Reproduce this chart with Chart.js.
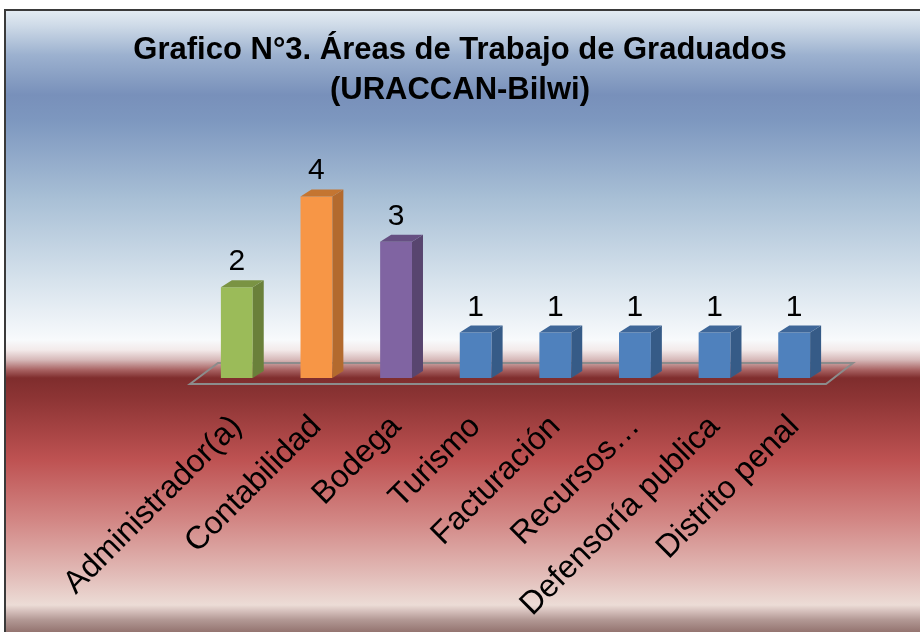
<!DOCTYPE html>
<html>
<head>
<meta charset="utf-8">
<script src="https://cdn.jsdelivr.net/npm/chart.js@4"></script>
<style>
  html, body { margin: 0; padding: 0; background: #fff; }
  #wrap { width: 920px; height: 632px; }
</style>
</head>
<body>
<div id="wrap"><canvas id="grafica" width="920" height="632"></canvas></div>
<script>
const categories = ['Administrador(a)', 'Contabilidad', 'Bodega', 'Turismo', 'Facturación', 'Recursos…', 'Defensoría publica', 'Distrito penal'];
const values = [2, 4, 3, 1, 1, 1, 1, 1];
const frontColors = ['#9bbb59', '#f79646', '#8064a2', '#4f81bd', '#4f81bd', '#4f81bd', '#4f81bd', '#4f81bd'];
const sideColors = ['#6a803a', '#b36a2e', '#58456f', '#365b87', '#365b87', '#365b87', '#365b87', '#365b87'];
const topColors = ['#7a9343', '#c47531', '#664f82', '#3e6698', '#3e6698', '#3e6698', '#3e6698', '#3e6698'];
const titleLines = ['Grafico N°3. Áreas de Trabajo de Graduados', '(URACCAN-Bilwi)'];

const FONT = "'Liberation Sans', Arial, sans-serif";
const DX = 11, DY = 7;

// fondo degradado + marco
const fondo = {
  id: 'fondo',
  beforeDraw(chart) {
    const ctx = chart.ctx;
    const W = chart.width, H = chart.height;
    ctx.save();
    ctx.fillStyle = '#fff';
    ctx.fillRect(0, 0, W, H);
    const g = ctx.createLinearGradient(0, 10, 0, H);
    const stops = [
      [10, '#e4ecf3'], [25, '#cfdbe8'], [55, '#9cb1cf'], [95, '#7890ba'], [120, '#7d97bf'],
      [200, '#a9c0d6'], [280, '#d6e2ec'], [340, '#f8fafc'], [350, '#f3eaea'],
      [360, '#d6b8b8'], [370, '#a86262'], [378, '#7f2d2d'], [400, '#8e3535'],
      [460, '#be5252'], [520, '#d28684'], [575, '#e2bcb8'], [605, '#ecdcd6'],
      [612, '#d2bcb8'], [620, '#b29894'], [632, '#947470']
    ];
    stops.forEach(([y, c]) => g.addColorStop(Math.min(1, Math.max(0, (y - 10) / (H - 10))), c));
    ctx.fillStyle = g;
    ctx.fillRect(5, 10, W - 5, H - 10);
    ctx.strokeStyle = '#3a3a3a';
    ctx.lineWidth = 2;
    ctx.beginPath();
    ctx.moveTo(5, H + 2);
    ctx.lineTo(5, 10);
    ctx.lineTo(W + 2, 10);
    ctx.stroke();
    ctx.restore();
  },
  beforeDatasetsDraw(chart) {
    // piso
    const ctx = chart.ctx, a = chart.chartArea;
    const b = a.bottom;
    ctx.save();
    ctx.strokeStyle = '#8c8c8c';
    ctx.lineWidth = 2;
    ctx.beginPath();
    ctx.moveTo(a.left - 7, b + 6);
    ctx.lineTo(a.left + 21, b - 15);
    ctx.lineTo(a.right + 19, b - 15);
    ctx.lineTo(a.right - 8, b + 6);
    ctx.closePath();
    ctx.stroke();
    ctx.restore();
  },
  afterDatasetsDraw(chart) {
    const ctx = chart.ctx;
    const meta = chart.getDatasetMeta(0);
    ctx.save();
    meta.data.forEach((bar, i) => {
      const p = bar.getProps(['x', 'y', 'base', 'width'], true);
      const l = p.x - p.width / 2, r = p.x + p.width / 2;
      // cara lateral
      ctx.fillStyle = sideColors[i];
      ctx.beginPath();
      ctx.moveTo(r, p.base);
      ctx.lineTo(r, p.y);
      ctx.lineTo(r + DX, p.y - DY);
      ctx.lineTo(r + DX, p.base - DY);
      ctx.closePath();
      ctx.fill();
      // cara superior
      ctx.fillStyle = topColors[i];
      ctx.beginPath();
      ctx.moveTo(l, p.y);
      ctx.lineTo(l + DX, p.y - DY);
      ctx.lineTo(r + DX, p.y - DY);
      ctx.lineTo(r, p.y);
      ctx.closePath();
      ctx.fill();
      // etiqueta de valor
      ctx.fillStyle = '#000';
      ctx.font = '30px ' + FONT;
      ctx.textAlign = 'center';
      ctx.textBaseline = 'alphabetic';
      ctx.fillText(String(values[i]), p.x, p.y - 17);
    });
    ctx.restore();
  }
};

new Chart(document.getElementById('grafica'), {
  type: 'bar',
  data: {
    labels: categories,
    datasets: [{
      data: values,
      backgroundColor: frontColors,
      borderWidth: 0,
      categoryPercentage: 1,
      barPercentage: 0.4
    }]
  },
  options: {
    responsive: false,
    animation: false,
    layout: { padding: 0 },
    plugins: {
      legend: { display: false },
      tooltip: { enabled: false },
      title: {
        display: true,
        text: titleLines,
        color: '#000',
        font: { family: FONT, size: 31, weight: 'bold', lineHeight: 1.29 },
        padding: { top: 30, bottom: 41 }
      }
    },
    scales: {
      x: {
        grid: { display: false, drawTicks: false },
        border: { display: false },
        ticks: {
          color: '#000',
          font: { family: FONT, size: 32 },
          minRotation: 45,
          maxRotation: 45,
          autoSkip: false,
          padding: 30
        },
        afterFit(s) { s.height = 254; }
      },
      y: {
        min: 0,
        max: 5,
        grid: { display: false },
        border: { display: false },
        ticks: { display: false },
        afterFit(s) { s.width = 197; }
      },
      y2: {
        type: 'linear',
        position: 'right',
        grid: { display: false },
        border: { display: false },
        ticks: { display: false },
        afterFit(s) { s.width = 86; }
      }
    }
  },
  plugins: [fondo]
});
</script>
</body>
</html>
